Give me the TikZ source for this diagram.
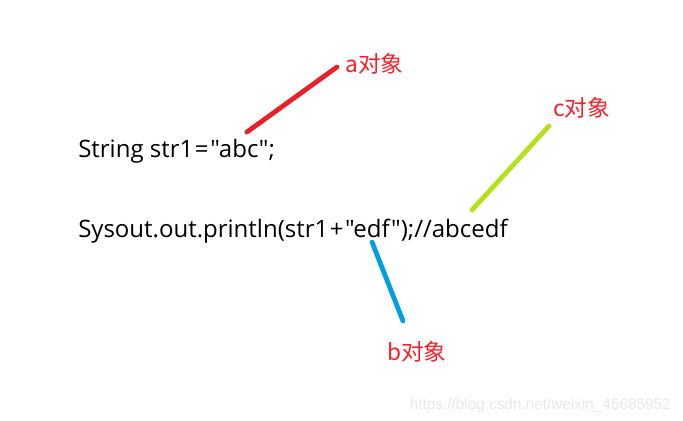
\documentclass[tikz,border=0pt]{standalone}
\usepackage{fontspec}
\newfontfamily\cjk{Noto Sans CJK SC}
\newfontfamily\codefont{Open Sans}
\newfontfamily\markfont{Liberation Sans}
\usetikzlibrary{positioning}
\definecolor{objRed}{RGB}{232, 32, 42}
\definecolor{objGreen}{RGB}{182, 224, 30}
\definecolor{objBlue}{RGB}{0, 160, 224}
\definecolor{labelRed}{RGB}{250, 30, 40}
\newcommand{\op}[1]{\kern1.2pt#1\kern1.2pt}
\tikzset{
    code/.style={anchor=base west, inner sep=0pt, font=\codefont\fontsize{18}{22}\selectfont},
    objlabel/.style={anchor=base west, inner sep=0pt, text=labelRed, font=\cjk\fontsize{17}{20}\selectfont},
    pointer/.style={line width=3.6pt, line cap=round}
}

\begin{document}
\begin{tikzpicture}[x=0.75pt, y=-0.75pt]
    % page frame
    \useasboundingbox (0,0) rectangle (683,421);

    % the two lines of code
    \node[code] (decl) at (78,157) {String str1\op{=}"abc";};
    \node[code] (print) at (78,237) {Sysout.out.println(str1\op{+}"edf");//abcedf};

    % labels
    \node[objlabel] (alabel) at (345,72) {a对象};
    \node[objlabel] (clabel) at (553,116) {c对象};
    \node[objlabel] (blabel) at (387,360) {b对象};

    % pointer ends
    \coordinate (aStart) at (247,132);
    \coordinate (aEnd) at (337,67);
    \coordinate (cStart) at (472,210);
    \coordinate (cEnd) at (549,126);
    \coordinate (bStart) at (372,242);
    \coordinate (bEnd) at (403,321);

    \draw[pointer, objRed] (aStart) -- (aEnd);
    \draw[pointer, objGreen] (cStart) -- (cEnd);
    \draw[pointer, objBlue] (bStart) -- (bEnd);

    % watermark
    \node[anchor=base east, inner sep=0pt, text=black!9, font=\markfont\fontsize{11.5}{14}\selectfont] (mark) at (671,409) {https://blog.csdn.net/weixin\_45685952};
\end{tikzpicture}
\end{document}
